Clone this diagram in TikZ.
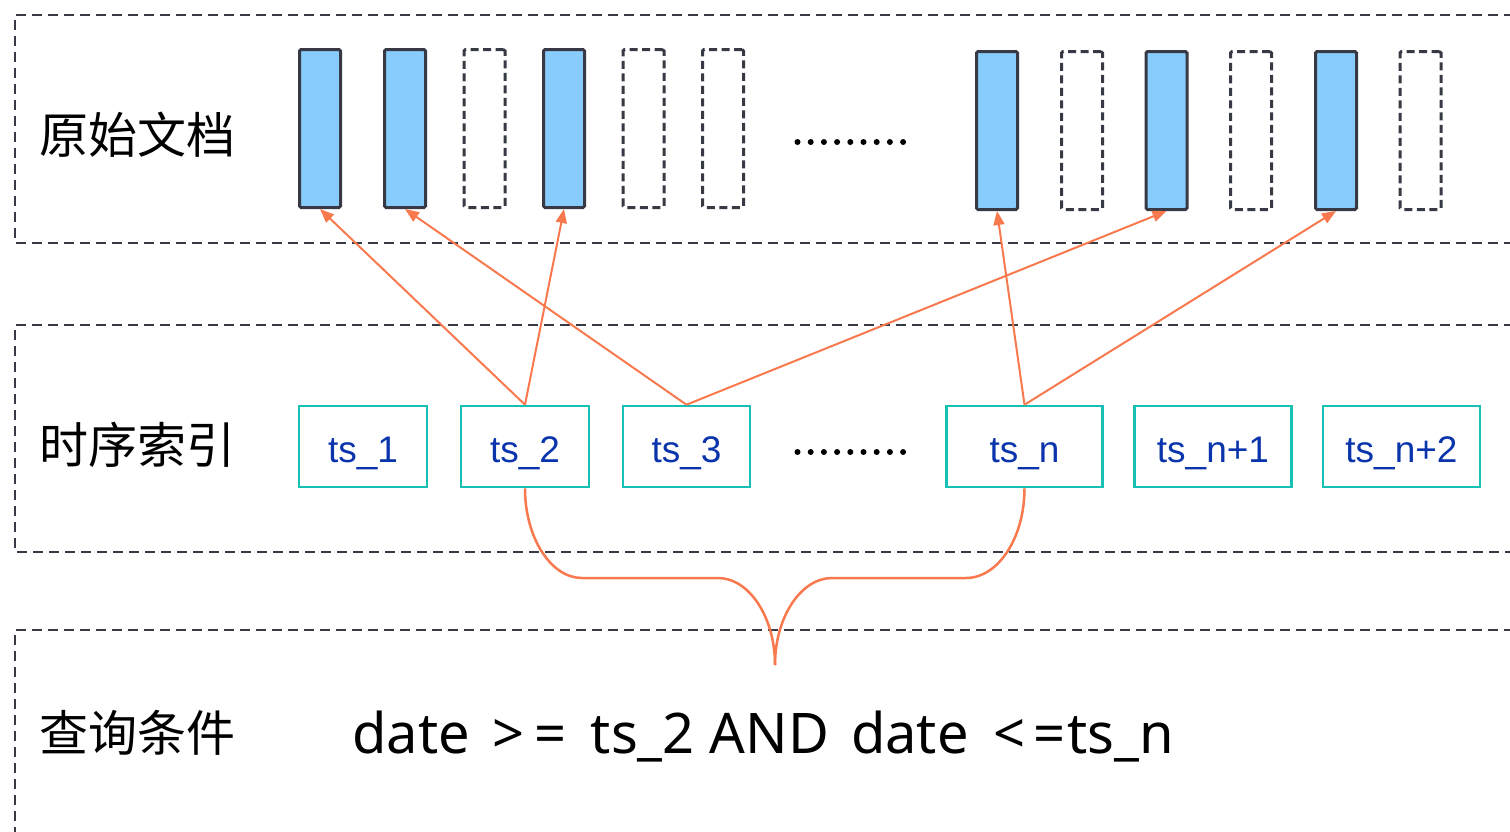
\documentclass[tikz,border=0pt]{standalone}
\usepackage{fontspec}
\setmainfont{Liberation Sans}
\newfontfamily\cjk{Noto Sans CJK SC}
\newfontfamily\qfont{Noto Sans}
\usetikzlibrary{arrows.meta}
\definecolor{frame}{RGB}{55,58,69}
\definecolor{docfill}{RGB}{135,204,253}
\definecolor{teal}{RGB}{22,192,180}
\definecolor{tsblue}{RGB}{10,52,172}
\definecolor{link}{RGB}{249,121,78}
\tikzset{
  section/.style={draw=frame, line width=2pt, dash pattern=on 10pt off 6pt},
  doc/.style={draw=frame, line width=3pt, fill=docfill, minimum width=41pt,
    minimum height=158pt, inner sep=0pt, rounded corners=1.5pt},
  emptydoc/.style={draw=frame, line width=3pt, dash pattern=on 8pt off 4.5pt,
    minimum width=41pt, minimum height=158pt, inner sep=0pt, rounded corners=1.5pt},
  tsbox/.style={draw=teal, line width=2.6pt, minimum height=81pt, inner sep=0pt,
    text=tsblue, text height=31pt, text depth=0pt, font=\fontsize{37}{42}\selectfont},
  rowlabel/.style={anchor=west, inner sep=0pt, font=\cjk\fontsize{49}{56}\selectfont},
  ref/.style={draw=link, line width=2pt, -{Triangle[length=14pt,width=11pt]}},
  bracket/.style={draw=link, line width=2.5pt},
  dot/.style={fill=black, circle, inner sep=0pt, minimum size=6pt}
}
\begin{document}
\begin{tikzpicture}[x=1pt,y=-1pt]
\clip (0,0) rectangle (1510,831);
\fill[white] (0,0) rectangle (1510,831);

% three row frames, open past the right edge
\draw[section] (1530,15) -- (15,15) -- (15,243) -- (1530,243);
\draw[section] (1530,325) -- (15,325) -- (15,552) -- (1530,552);
\draw[section] (1530,630) -- (15,630) -- (15,850);

% row labels
\node[rowlabel] (lab1) at (39,135) {原始文档};
\node[rowlabel] (lab2) at (39,445) {时序索引};
\node[rowlabel] (lab3) at (39,733) {查询条件};

% documents
\node[doc]      (d1)  at (320,128.5) {};
\node[doc]      (d2)  at (405,128.5) {};
\node[emptydoc] (d3)  at (484.5,128.5) {};
\node[doc]      (d4)  at (564,128.5) {};
\node[emptydoc] (d5)  at (643.5,128.5) {};
\node[emptydoc] (d6)  at (723,128.5) {};
\node[doc]      (d7)  at (997,130.5) {};
\node[emptydoc] (d8)  at (1082,130.5) {};
\node[doc]      (d9)  at (1166.5,130.5) {};
\node[emptydoc] (d10) at (1251,130.5) {};
\node[doc]      (d11) at (1336,130.5) {};
\node[emptydoc] (d12) at (1420.5,130.5) {};

% ellipses
\foreach \i in {0,...,8} {
  \node[dot] at (797.5+13.2*\i,142) {};
  \node[dot] at (797.5+13.2*\i,452) {};
}

% time-series index entries
\node[tsbox, minimum width=128pt] (t1) at (363,446.5) {ts\_1};
\node[tsbox, minimum width=128pt] (t2) at (525,446.5) {ts\_2};
\node[tsbox, minimum width=127pt] (t3) at (686.5,446.5) {ts\_3};
\node[tsbox, minimum width=156pt] (t4) at (1024.5,446.5) {ts\_n};
\node[tsbox, minimum width=157pt] (t5) at (1213,446.5) {ts\_n+1};
\node[tsbox, minimum width=157pt] (t6) at (1401.5,446.5) {ts\_n+2};

% index -> document references
\draw[ref] (t2.north) -- (d1.south);
\draw[ref] (t2.north) -- (d4.south);
\draw[ref] (t3.north) -- (d2.south);
\draw[ref] (t3.north) -- (d9.south);
\draw[ref] (t4.north) -- (d7.south);
\draw[ref] (t4.north) -- (d11.south);

% brace joining the range bounds
\coordinate (tip) at (775,665);
\draw[bracket] (t2.south) .. controls (525,538) and (551,578) .. (582,578)
  -- (718,578) .. controls (749,578) and (775,617) .. (tip);
\draw[bracket] (t4.south) .. controls (1024.5,538) and (998,578) .. (966,578)
  -- (832,578) .. controls (801,578) and (775,617) .. (tip);

% query condition
\node[anchor=base west, inner sep=0pt, font=\qfont\fontsize{56}{64}\selectfont] (q)
  at (352,753) {date\hspace{23pt}>\hspace{10pt}=\hspace{24pt}ts\_2\hspace{15pt}AND\hspace{22pt}date\hspace{25pt}<\hspace{8pt}=\hspace{2pt}ts\_n};
\end{tikzpicture}
\end{document}
